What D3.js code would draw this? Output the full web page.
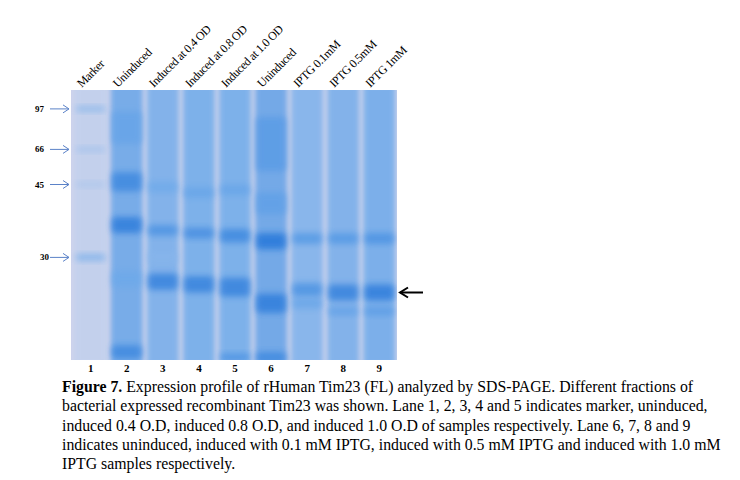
<!DOCTYPE html><html><head><meta charset="utf-8">
<script src="https://cdn.jsdelivr.net/npm/d3@7"></script>
<style>body{margin:0;background:#fff}</style></head><body><svg id="c" width="740" height="480"></svg>
<script>
const laneLabels=["Marker","Uninduced","Induced at 0.4 OD","Induced at 0.8 OD","Induced at 1.0 OD","Uninduced","IPTG 0.1mM","IPTG 0.5mM","IPTG 1mM"];
const laneNumbers=["1","2","3","4","5","6","7","8","9"];
const markerKDa=["97","66","45","30"];
const markerPos=[0.07,0.22,0.35,0.62];
const laneDensity=[0.08,0.65,0.55,0.58,0.58,0.7,0.5,0.55,0.6];
const bands=[
[0,0.07,0.45,0.02],[0,0.22,0.3,0.02],[0,0.35,0.25,0.02],[0,0.62,0.5,0.025],
[1,0.14,0.55,0.12],[1,0.34,0.85,0.07],[1,0.5,0.95,0.06],[1,0.7,0.5,0.06],[1,0.97,0.85,0.05],
[2,0.36,0.5,0.04],[2,0.52,0.75,0.04],[2,0.71,0.9,0.06],[2,0.62,0.35,0.04],
[3,0.38,0.55,0.04],[3,0.53,0.8,0.04],[3,0.72,0.9,0.06],
[4,0.37,0.55,0.04],[4,0.54,0.85,0.05],[4,0.73,0.9,0.07],[4,0.99,0.75,0.03],
[5,0.2,0.65,0.2],[5,0.42,0.6,0.08],[5,0.56,1,0.06],[5,0.79,0.95,0.07],[5,0.99,0.85,0.04],
[6,0.55,0.7,0.04],[6,0.74,0.75,0.05],[6,0.79,0.55,0.04],
[7,0.55,0.7,0.04],[7,0.75,0.9,0.06],[7,0.82,0.6,0.03],
[8,0.55,0.75,0.04],[8,0.75,0.95,0.06],[8,0.82,0.65,0.03]
];
const caption=[
[["Figure 7.",true],[" Expression profile of rHuman Tim23 (FL) analyzed by SDS-PAGE. Different fractions of",false]],
[["bacterial expressed recombinant Tim23 was shown. Lane 1, 2, 3, 4 and 5 indicates marker, uninduced,",false]],
[["induced 0.4 O.D, induced 0.8 O.D, and induced 1.0 O.D of samples respectively. Lane 6, 7, 8 and 9",false]],
[["indicates uninduced, induced with 0.1 mM IPTG, induced with 0.5 mM IPTG and induced with 1.0 mM",false]],
[["IPTG samples respectively.",false]]
];
const svg=d3.select("#c");
const gx0=71,gx1=397,gy0=90,gy1=360;
const x=d3.scaleBand().domain(d3.range(9)).range([gx0+2,gx1]).paddingInner(0.12).paddingOuter(0.05);
const y=d3.scaleLinear().domain([0,1]).range([gy0,gy1]);
const col=d3.scaleLinear().domain([0,0.5,1]).range(["#cfd6ee","#6aa8ea","#2a7ada"]);
const defs=svg.append("defs");
defs.append("filter").attr("id","b").attr("x","-20%").attr("y","-50%").attr("width","140%").attr("height","200%").append("feGaussianBlur").attr("stdDeviation",3);
defs.append("filter").attr("id","b2").attr("x","-20%").attr("y","-20%").attr("width","140%").attr("height","140%").append("feGaussianBlur").attr("stdDeviation",2.5);
svg.append("rect").attr("x",gx0).attr("y",gy0).attr("width",gx1-gx0).attr("height",gy1-gy0).attr("fill","#cdd3ec");
const g=svg.append("g").attr("clip-path","url(#cl)");
defs.append("clipPath").attr("id","cl").append("rect").attr("x",gx0).attr("y",gy0).attr("width",gx1-gx0).attr("height",gy1-gy0);
g.selectAll(".lane").data(laneDensity).join("rect").attr("x",(d,i)=>x(i)).attr("y",gy0-5).attr("width",x.bandwidth()).attr("height",gy1-gy0+10).attr("fill",d=>col(d*0.85)).attr("opacity",0.8).attr("filter","url(#b2)");
g.selectAll(".band").data(bands).join("rect").attr("x",d=>x(d[0])+1).attr("y",d=>y(d[1])-(d[3]*(gy1-gy0))/2).attr("width",x.bandwidth()-2).attr("height",d=>d[3]*(gy1-gy0)).attr("rx",4).attr("fill",d=>col(d[2])).attr("opacity",d=>0.4+0.5*d[2]).attr("filter","url(#b)");
const mk=svg.append("g");
markerKDa.forEach((k,i)=>{const yy=y(markerPos[i]);
 mk.append("text").attr("x",i==3?40:35).attr("y",yy+3).attr("font-family","Liberation Serif").attr("font-size",9).attr("font-weight","bold").text(k);
 mk.append("line").attr("x1",50).attr("x2",69).attr("y1",yy).attr("y2",yy).attr("stroke","#5b82c8").attr("stroke-width",1);
 mk.append("path").attr("d",`M63,${yy-4}L69,${yy}L63,${yy+4}`).attr("fill","none").attr("stroke","#5b82c8");
});
const ay=y(0.75);
svg.append("line").attr("x1",400).attr("x2",423).attr("y1",ay).attr("y2",ay).attr("stroke","#000").attr("stroke-width",2);
svg.append("path").attr("d",`M408,${ay-5}L400,${ay}L408,${ay+5}`).attr("fill","none").attr("stroke","#000").attr("stroke-width",2);
svg.selectAll(".ll").data(laneLabels).join("text").attr("transform",(d,i)=>`translate(${x(i)+x.bandwidth()/2-9},${gy0-2}) rotate(-45)`).attr("font-family","Liberation Serif").attr("font-size",12).attr("letter-spacing",-0.4).text(d=>d);
svg.selectAll(".ln").data(laneNumbers).join("text").attr("x",(d,i)=>x(i)+x.bandwidth()/2).attr("y",gy1+12).attr("text-anchor","middle").attr("font-family","Liberation Serif").attr("font-size",11).attr("font-weight","bold").text(d=>d);
caption.forEach((line,i)=>{const t=svg.append("text").attr("x",62).attr("y",392+i*19.3).attr("font-family","Liberation Serif").attr("font-size",15.8);
 line.forEach(s=>t.append("tspan").attr("font-weight",s[1]?"bold":"normal").text(s[0]));});
</script></body></html>
